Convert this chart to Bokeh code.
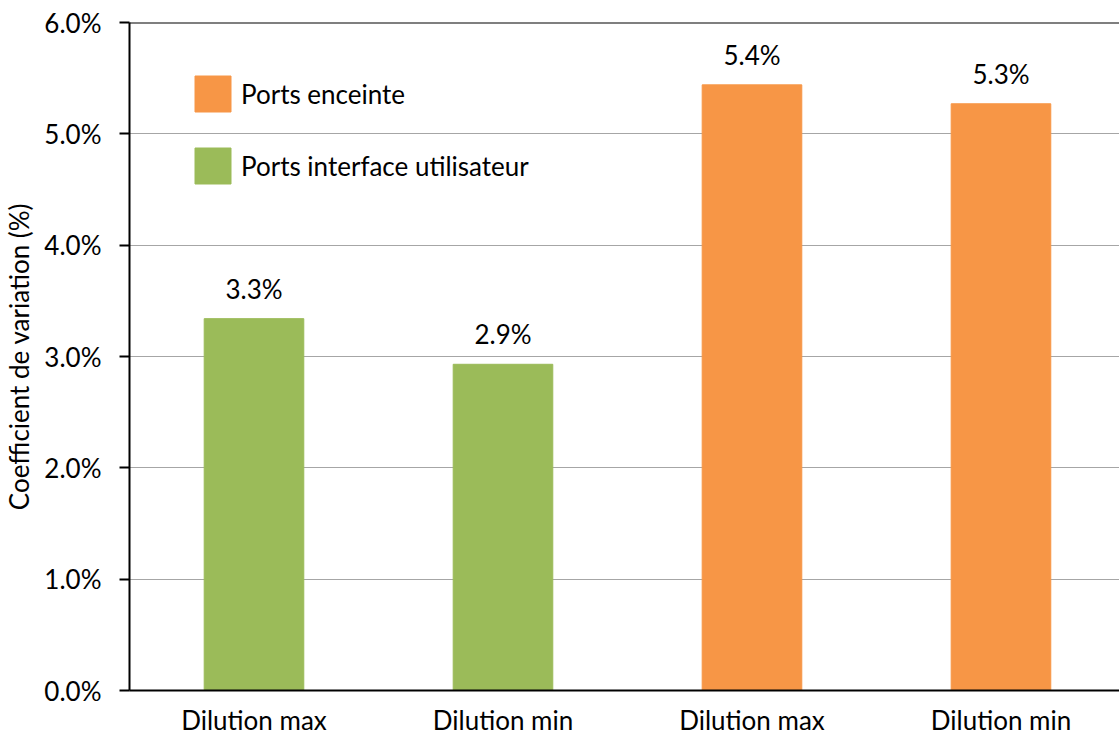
from bokeh.plotting import figure
from bokeh.models import (Range1d, FixedTicker, PrintfTickFormatter, Span,
                          ColumnDataSource, Legend, LegendItem)
from bokeh.core.properties import value
from bokeh.embed import file_html
from bokeh.resources import INLINE

categories = ["Dilution max", "Dilution min", "Dilution max", "Dilution min"]
values = [3.34, 2.93, 5.44, 5.27]
labels = ["3.3%", "2.9%", "5.4%", "5.3%"]
groups = ["Ports interface utilisateur", "Ports interface utilisateur",
          "Ports enceinte", "Ports enceinte"]
group_colors = {"Ports enceinte": "#F79646", "Ports interface utilisateur": "#9BBB59"}
y_ticks = [0, 1, 2, 3, 4, 5, 6]

FONT = "Lato"
xs = list(range(len(categories)))
colors = [group_colors[g] for g in groups]

p = figure(width=1119, height=738, output_backend="svg", toolbar_location=None,
           x_range=Range1d(-0.5, 3.476), y_range=Range1d(0, 6),
           min_border_left=126, min_border_top=22, min_border_bottom=48,
           min_border_right=0)
p.outline_line_color = None
p.xgrid.grid_line_color = None
p.ygrid.grid_line_color = "#a6a6a6"
p.ygrid.grid_line_width = 1

src = ColumnDataSource(dict(x=xs, top=values, color=colors, label=labels, group=groups))
p.vbar(x="x", top="top", width=0.4, color="color", source=src)

p.text(x="x", y="top", text="label", source=src, text_align="center",
       text_baseline="bottom", y_offset=-14, text_font=value(FONT),
       text_font_size="26px", text_color="#000000")

# Legend proxies
proxies = {}
for g in ["Ports enceinte", "Ports interface utilisateur"]:
    proxies[g] = p.vbar(x=[xs[groups.index(g)]], top=[0], width=0, color=group_colors[g])
legend = Legend(items=[LegendItem(label=g, renderers=[proxies[g]])
                       for g in ["Ports enceinte", "Ports interface utilisateur"]],
                location=(61, 502), glyph_width=45, glyph_height=45, spacing=27,
                label_standoff=6, padding=0, margin=0,
                background_fill_alpha=0, border_line_alpha=0,
                label_text_font=FONT, label_text_font_size="26px",
                label_text_color="#000000")
p.add_layout(legend)

top_line = Span(location=6, dimension="width", line_color="black", line_width=2)
p.add_layout(top_line)

p.yaxis.ticker = FixedTicker(ticks=y_ticks)
p.yaxis.formatter = PrintfTickFormatter(format="%.1f%%")
p.yaxis.axis_line_color = "black"
p.yaxis.axis_line_width = 2
p.yaxis.major_tick_line_color = "black"
p.yaxis.major_tick_line_width = 2
p.yaxis.major_tick_out = 10
p.yaxis.major_tick_in = 0
p.yaxis.minor_tick_line_color = None
p.yaxis.major_label_text_font = FONT
p.yaxis.major_label_text_font_size = "26px"
p.yaxis.major_label_text_color = "#000000"
p.yaxis.major_label_standoff = 18
p.yaxis.axis_label = "Coefficient de variation (%)"
p.yaxis.axis_label_text_font = FONT
p.yaxis.axis_label_text_font_size = "26px"
p.yaxis.axis_label_text_font_style = "normal"
p.yaxis.axis_label_text_color = "#000000"
p.yaxis.axis_label_standoff = 6

p.xaxis.ticker = FixedTicker(ticks=xs)
p.xaxis.major_label_overrides = {i: c for i, c in zip(xs, categories)}
p.xaxis.axis_line_color = "black"
p.xaxis.axis_line_width = 2
p.xaxis.major_tick_line_color = None
p.xaxis.minor_tick_line_color = None
p.xaxis.major_label_text_font = FONT
p.xaxis.major_label_text_font_size = "26px"
p.xaxis.major_label_text_color = "#000000"
p.xaxis.major_label_standoff = 7

open("out.html", "w").write(file_html(p, INLINE))
